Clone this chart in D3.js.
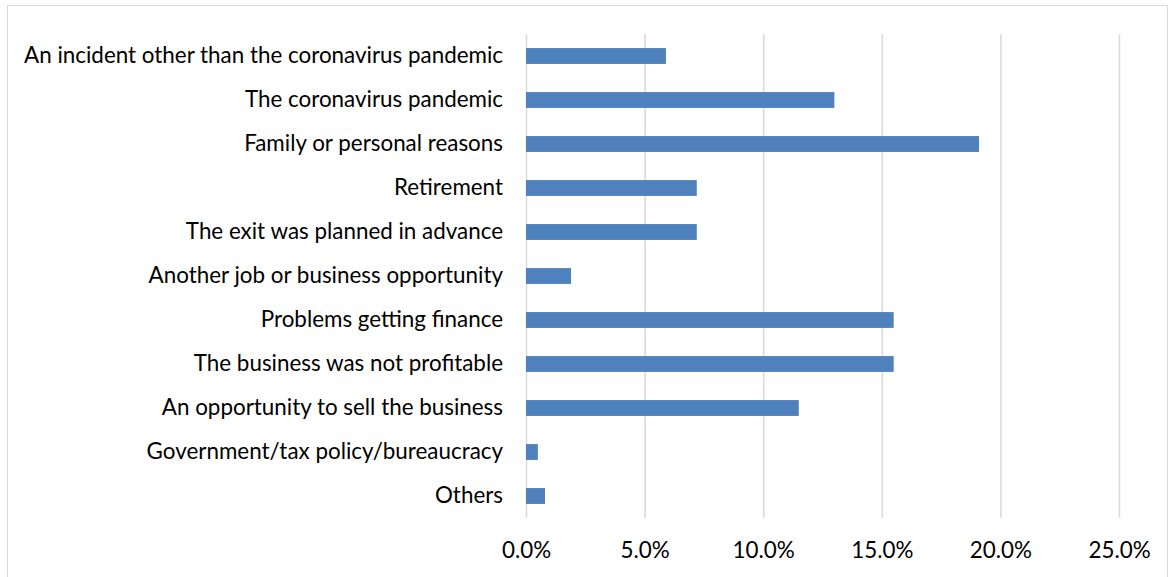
<!DOCTYPE html>
<html>
<head>
<meta charset="utf-8">
<script src="https://cdn.jsdelivr.net/npm/d3@7"></script>
<style>
  body { margin: 0; background: #fff; }
  svg { display: block; font-family: Lato, "Open Sans", sans-serif; }
</style>
</head>
<body>
<div id="chart"></div>
<script>
const categories = [
    "An incident other than the coronavirus pandemic",
    "The coronavirus pandemic",
    "Family or personal reasons",
    "Retirement",
    "The exit was planned in advance",
    "Another job or business opportunity",
    "Problems getting finance",
    "The business was not profitable",
    "An opportunity to sell the business",
    "Government/tax policy/bureaucracy",
    "Others"
]
const values = [5.9, 13.0, 19.1, 7.2, 7.2, 1.9, 15.5, 15.5, 11.5, 0.5, 0.8]
const ticks = [0, 5, 10, 15, 20, 25]

let width = 1170,
    height = 577,
    marginTop = 34,
    marginLeft = 526,
    marginRight = 51,
    marginBottom = 59,
    fontSize = 22.4,
    color = "#4f81bd",
    gridColor = "#d9d9d9"

const xScale = d3.scaleLinear([0, 25], [marginLeft, width - marginRight])
const yScale = d3.scaleBand(categories, [marginTop, height - marginBottom])
    .paddingInner(0.64)
    .paddingOuter(0.32)

const svg = d3.select("#chart")
    .append("svg")
    .attr("width", width)
    .attr("height", height)
    .attr("viewBox", [0, 0, width, height])

// chart border
svg.append("rect")
    .attr("x", 7.5)
    .attr("y", 5.5)
    .attr("width", width - 10)
    .attr("height", height)
    .attr("fill", "none")
    .attr("stroke", gridColor)

// x axis with gridlines
svg.append("g")
    .attr("transform", `translate(0,${height - marginBottom})`)
    .call(d3.axisBottom(xScale).tickValues(ticks).tickFormat(d => d.toFixed(1) + "%").tickSize(0).tickPadding(24))
    .call(g => g.select(".domain").remove())
    .call(g => g.selectAll(".tick text")
        .attr("font-size", fontSize)
        .attr("font-family", "Lato, sans-serif")
        .attr("fill", "#000"))
    .call(g => g.selectAll(".tick line").clone()
        .attr("y2", -(height - marginTop - marginBottom))
        .attr("stroke", gridColor)
        .attr("stroke-width", 1.5))

svg.append("g")
    .attr("fill", color)
    .selectAll("rect")
    .data(values)
    .join("rect")
    .attr("x", xScale(0))
    .attr("y", (d, i) => yScale(categories[i]))
    .attr("width", d => xScale(d) - xScale(0))
    .attr("height", yScale.bandwidth())

// category labels
svg.append("g")
    .attr("transform", `translate(${marginLeft},0)`)
    .call(d3.axisLeft(yScale).tickSize(0).tickPadding(23))
    .call(g => g.select(".domain").remove())
    .call(g => g.selectAll(".tick text")
        .attr("font-size", fontSize)
        .attr("font-family", "Lato, sans-serif")
        .attr("fill", "#000"))
</script>
</body>
</html>
